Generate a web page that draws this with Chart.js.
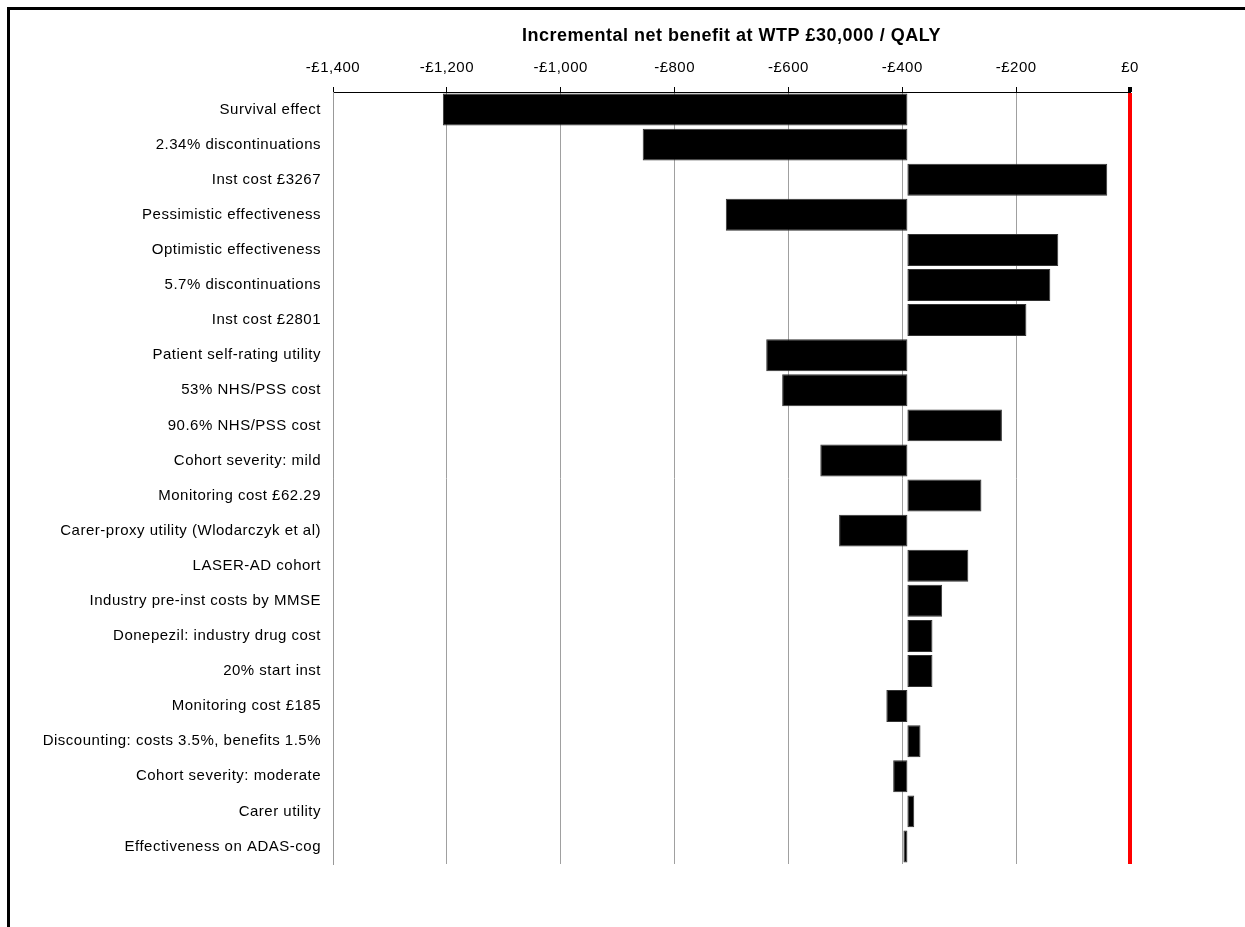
<!DOCTYPE html>
<html>
<head>
<meta charset="utf-8">
<script src="https://cdn.jsdelivr.net/npm/chart.js@4/dist/chart.umd.min.js"></script>
<style>
  html, body { margin: 0; padding: 0; background: #fff; overflow: hidden; }
  #frame { position: absolute; left: 7px; top: 7px; width: 1400px; height: 1100px; border: 3px solid #000; }
  #wrap { position: absolute; left: 0; top: 0; width: 1245px; height: 927px; }
</style>
</head>
<body>
<div id="frame"></div>
<div id="wrap"><canvas id="tornado"></canvas></div>
<script>
// Data for the tornado diagram
const categories = [
    "Survival effect",
    "2.34% discontinuations",
    "Inst cost £3267",
    "Pessimistic effectiveness",
    "Optimistic effectiveness",
    "5.7% discontinuations",
    "Inst cost £2801",
    "Patient self-rating utility",
    "53% NHS/PSS cost",
    "90.6% NHS/PSS cost",
    "Cohort severity: mild",
    "Monitoring cost £62.29",
    "Carer-proxy utility (Wlodarczyk et al)",
    "LASER-AD cohort",
    "Industry pre-inst costs by MMSE",
    "Donepezil: industry drug cost",
    "20% start inst",
    "Monitoring cost £185",
    "Discounting: costs 3.5%, benefits 1.5%",
    "Cohort severity: moderate",
    "Carer utility",
    "Effectiveness on ADAS-cog"
];

// base case incremental net benefit
const baseCase = -391;

// sensitivity result for each scenario
const scenarioValues = [
    -1207, -856, -40, -710, -126, -140, -182, -639, -611, -225, -544,
    -261, -511, -284, -330, -347, -347, -428, -368, -416, -379, -398
];

const xTicks = [-1400, -1200, -1000, -800, -600, -400, -200, 0];

function formatPounds(v) {
    const s = '£' + Math.abs(v).toLocaleString('en-GB');
    return v < 0 ? '-' + s : s;
}

// the original text is a bit wider than plain Arial
const spacing = {
    id: 'spacing',
    beforeUpdate(chart) { chart.ctx.letterSpacing = '0.5px'; },
    beforeDraw(chart) { chart.ctx.letterSpacing = '0.5px'; }
};

const ctx = document.getElementById('tornado').getContext('2d');
new Chart(ctx, {
    type: 'bar',
    plugins: [spacing],
    data: {
        labels: categories,
        datasets: [{
            data: scenarioValues.map(v => [baseCase, v]),
            backgroundColor: '#000',
            borderColor: '#333',
            borderWidth: 1,
            borderSkipped: false,
            barPercentage: 0.91,
            categoryPercentage: 1.0
        }]
    },
    options: {
        indexAxis: 'y',
        responsive: true,
        maintainAspectRatio: false,
        animation: false,
        layout: { padding: { left: 0, top: 0, right: 115, bottom: 63 } },
        plugins: {
            legend: { display: false },
            tooltip: { enabled: false }
        },
        scales: {
            x: {
                position: 'top',
                min: -1400,
                max: 0,
                afterBuildTicks: scale => { scale.ticks = xTicks.map(v => ({ value: v })); },
                afterFit: scale => { scale.height = 92; },
                title: {
                    display: true,
                    text: 'Incremental net benefit at WTP £30,000 / QALY',
                    color: '#000',
                    font: { family: 'Liberation Sans, Arial', size: 18, weight: 'bold' },
                    padding: { top: 25, bottom: 0 }
                },
                ticks: {
                    color: '#000',
                    padding: 10,
                    maxRotation: 0,
                    font: { family: 'Liberation Sans, Arial', size: 15 },
                    callback: v => formatPounds(v)
                },
                grid: {
                    color: c => c.tick && c.tick.value === 0 ? '#ff0000' : '#a0a0a0',
                    lineWidth: c => c.tick && c.tick.value === 0 ? 4 : 1,
                    tickColor: '#000',
                    tickLength: 5
                },
                border: { display: true, color: '#000', width: 1 }
            },
            y: {
                afterFit: scale => { scale.width = 333; },
                ticks: {
                    color: '#000',
                    padding: 12,
                    font: { family: 'Liberation Sans, Arial', size: 15 }
                },
                grid: { display: false, drawTicks: false },
                border: { display: true, color: '#999', width: 1 }
            }
        }
    }
});
</script>
</body>
</html>
